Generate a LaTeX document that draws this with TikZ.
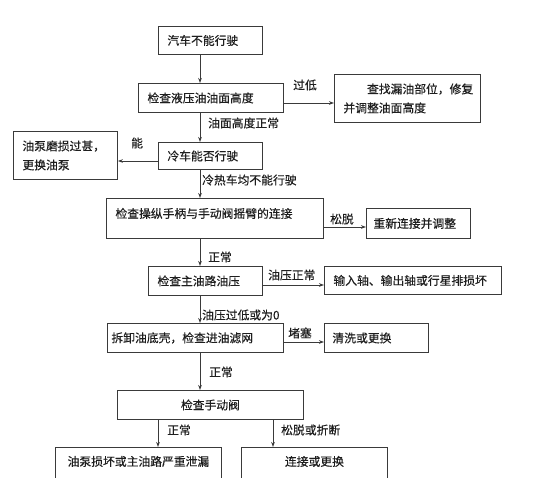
\documentclass[tikz,border=0pt]{standalone}
\usepackage{fontspec}
\setmainfont[FakeBold=0.35]{Noto Sans CJK SC}
\usetikzlibrary{arrows.meta}
\definecolor{linec}{HTML}{3A3A3A}
\definecolor{txt}{HTML}{1E1E1E}
\newcommand{\cjkfs}{\fontsize{11.8}{19}\selectfont}
\tikzset{
  box/.style={draw=linec, line width=0.9pt, rectangle, anchor=north west,
    inner ysep=0pt, align=left, font=\cjkfs, text=txt},
  cbox/.style={box, align=center},
  lab/.style={anchor=west, inner sep=0pt, font=\cjkfs, text=txt},
  arr/.style={draw=linec, line width=0.9pt, -{Stealth[length=5pt,width=3.6pt]}},
}
\begin{document}
\begin{tikzpicture}[x=1pt,y=-1pt]
\clip (0,0) rectangle (560,478);
\fill[white] (0,0) rectangle (560,478);
% boxes
\node[box, inner xsep=9pt, text width=86pt, minimum height=28pt] (b1) at (158,26) {汽车不能行驶};
\node[box, inner xsep=9pt, text width=127pt, minimum height=29pt] (b2) at (138,83) {检查液压油油面高度};
\node[box, inner xsep=9pt, text width=128pt, minimum height=48pt] (r2) at (334,74) {\hspace*{2em}查找漏油部位，修复\\并调整油面高度};
\node[box, inner xsep=9pt, text width=86pt, minimum height=27pt] (b3) at (158,142) {冷车能否行驶};
\node[box, inner xsep=9pt, text width=86pt, minimum height=48pt] (l3) at (13,131) {油泵磨损过甚，\\更换油泵};
\node[box, inner xsep=9pt, text width=199pt, minimum height=40pt, text depth=11pt] (b4) at (106,198) {检查操纵手柄与手动阀摇臂的连接};
\node[box, inner xsep=7pt, text width=90pt, minimum height=30pt] (r4) at (366,208) {重新连接并调整};
\node[box, inner xsep=9pt, text width=96pt, minimum height=29pt] (b5) at (148,266) {检查主油路油压};
\node[box, inner xsep=9pt, text width=159pt, minimum height=28pt] (r5) at (324,266) {输入轴、输出轴或行星排损坏};
\node[box, inner xsep=4pt, text width=168pt, minimum height=29pt] (b6) at (107,323) {拆卸油底壳，检查进油滤网};
\node[box, inner xsep=8pt, text width=88pt, minimum height=29pt] (r6) at (324,323) {清洗或更换};
\node[cbox, inner xsep=9pt, text width=168pt, minimum height=29pt] (b7) at (117,390) {检查手动阀};
\node[cbox, inner xsep=9pt, text width=148pt, minimum height=44pt, text depth=17pt] (b8) at (55,447) {油泵损坏或主油路严重泄漏};
\node[cbox, inner xsep=9pt, text width=128pt, minimum height=44pt, text depth=17pt] (b9) at (241,447) {连接或更换};
% helper coordinates
\coordinate (vx) at (200,0);
\coordinate (y2) at (0,103);
\coordinate (y3) at (0,161);
\coordinate (y4) at (0,227);
\coordinate (y5) at (0,285);
\coordinate (y6) at (0,342);
\coordinate (xa) at (158,0);
\coordinate (xb) at (273,0);
% vertical connectors
\draw[arr] (b1.south -| vx) -- (b2.north -| vx);
\draw[arr] (b2.south -| vx) -- (b3.north -| vx);
\draw[arr] (b3.south -| vx) -- (b4.north -| vx);
\draw[arr] (b4.south -| vx) -- (b5.north -| vx);
\draw[arr] (b5.south -| vx) -- (b6.north -| vx);
\draw[arr] (b6.south -| vx) -- (b7.north -| vx);
\draw[arr] (b7.south -| xa) -- (b8.north -| xa);
\draw[arr] (b7.south -| xb) -- (b9.north -| xb);
% horizontal connectors
\draw[arr] (b2.east |- y2) -- (r2.west |- y2);
\draw[arr] (b3.west |- y3) -- (l3.east |- y3);
\draw[arr] (b4.east |- y4) -- (r4.west |- y4);
\draw[arr] (b5.east |- y5) -- (r5.west |- y5);
\draw[arr] (b6.east |- y6) -- (r6.west |- y6);
% labels
\node[lab] (t1) at (293,85) {过低};
\node[lab] (t2) at (208,123) {油面高度正常};
\node[lab] (t3) at (131,143) {能};
\node[lab] (t4) at (202,180) {冷热车均不能行驶};
\node[lab] (t5) at (330,219) {松脱};
\node[lab] (t6) at (208,257) {正常};
\node[lab] (t7) at (268,275) {油压正常};
\node[lab] (t8) at (202,315) {油压过低或为0};
\node[lab] (t9) at (288,333) {堵塞};
\node[lab] (t10) at (209,372) {正常};
\node[lab] (t11) at (167,430) {正常};
\node[lab] (t12) at (281,430) {松脱或折断};
\end{tikzpicture}
\end{document}
